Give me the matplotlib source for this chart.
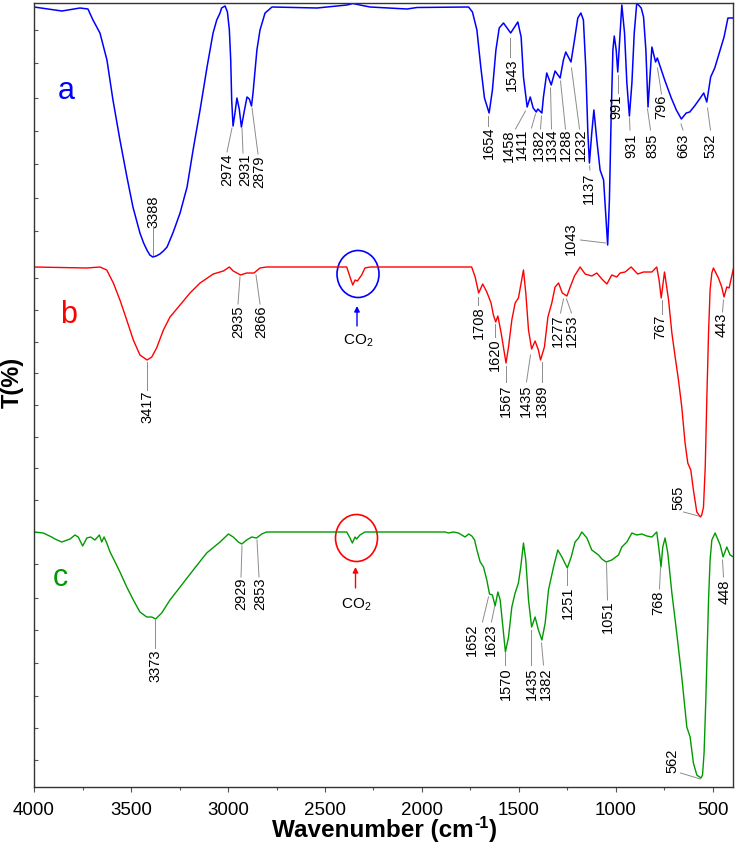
import matplotlib
matplotlib.use('Agg')
import matplotlib.pyplot as plt
from matplotlib.patches import Ellipse
from matplotlib.ticker import MultipleLocator, FixedLocator

plt.rcParams['font.family'] = ['Liberation Sans', 'DejaVu Sans']
plt.rcParams['mathtext.fontset'] = 'custom'
plt.rcParams['mathtext.rm'] = 'Liberation Sans'
plt.rcParams['mathtext.it'] = 'Liberation Sans:italic'
plt.rcParams['mathtext.bf'] = 'Liberation Sans:bold'

# ---------------- data (wavenumber cm-1, transmittance, arbitrary offset units) -------------
a_wn = [4000, 3856, 3763, 3722, 3696, 3660, 3624, 3593, 3557, 3521, 3490, 3454, 3435, 3418, 3403,
        3388, 3370, 3351, 3333, 3314, 3284, 3247, 3211, 3180, 3144, 3108, 3077, 3058, 3041, 3033,
        3015, 3003, 2993, 2986, 2981, 2974, 2964, 2954, 2942, 2931, 2916, 2902, 2890, 2879, 2871,
        2851, 2835, 2809, 2773, 2541, 2387, 2356, 2320, 2268, 2077, 2026, 1760,
        1740, 1717, 1697, 1678, 1654, 1637, 1619, 1602, 1580, 1543, 1506, 1489, 1477, 1458, 1442,
        1427, 1411, 1403, 1382, 1374, 1357, 1334, 1314, 1288, 1271, 1259, 1232, 1214, 1197, 1181,
        1168, 1156, 1145, 1137, 1125, 1114, 1099, 1082, 1064, 1052, 1043, 1034, 1025, 1016, 1009,
        999, 991, 979, 970, 956, 944, 931, 918, 906, 893, 870, 858, 846, 835, 827, 815, 796, 787,
        749, 715, 689, 663, 638, 620, 595, 569, 548, 532, 512, 491, 466, 443, 423, 397]
a_T = [78.0, 77.6, 77.9, 77.8, 76.7, 75.4, 72.7, 68.7, 64.7, 61.0, 58.0, 55.4, 54.4, 53.7, 53.2,
       53.0, 53.1, 53.3, 53.6, 54.0, 55.4, 57.4, 60.0, 63.7, 67.7, 72.0, 75.4, 76.7, 77.4, 77.9,
       78.1, 77.5, 75.7, 72.7, 68.7, 66.1, 67.4, 68.9, 67.8, 66.0, 67.6, 69.0, 68.8, 68.1, 69.4,
       73.7, 75.7, 77.4, 78.0, 77.9, 78.2, 78.35, 78.2, 78.0, 77.8, 77.95, 78.0,
       77.5, 75.7, 72.0, 68.9, 67.4, 69.7, 73.7, 75.9, 76.4, 75.4, 76.5, 75.0, 71.0, 68.0, 69.0,
       67.9, 67.5, 67.8, 67.4, 69.0, 71.4, 70.2, 71.6, 70.9, 72.7, 73.5, 72.5, 74.7, 76.9, 77.4,
       76.7, 72.0, 65.4, 62.4, 65.4, 67.7, 64.7, 61.7, 60.7, 57.0, 54.2, 58.7, 67.0, 73.7, 75.1,
       73.7, 71.5, 75.4, 78.2, 75.4, 70.4, 67.1, 70.4, 75.4, 78.4, 77.9, 77.0, 73.7, 68.0, 70.4,
       74.0, 72.5, 72.9, 70.7, 68.9, 67.7, 66.8, 67.4, 67.5, 68.1, 68.8, 69.4, 68.5, 71.0, 71.9,
       73.5, 75.0, 76.9, 76.9]

b_wn = [4000, 3728, 3660, 3625, 3591, 3557, 3522, 3488, 3454, 3417, 3393, 3368, 3333, 3299, 3247,
        3196, 3144, 3076, 3024, 2993, 2973, 2935, 2904, 2866, 2835, 2801, 2388, 2371, 2357, 2345,
        2333, 2311, 2294, 2268, 1744, 1726, 1708, 1687, 1666, 1644, 1632, 1620, 1609, 1592, 1567,
        1554, 1537, 1520, 1503, 1489, 1477, 1465, 1451, 1435, 1417, 1400, 1389, 1369, 1351, 1331,
        1314, 1296, 1277, 1253, 1236, 1214, 1185, 1159, 1125, 1099, 1073, 1047, 1022, 996, 979,
        953, 922, 888, 858, 815, 790, 778, 767, 750, 729, 712, 695, 678, 661, 644, 630, 614.5, 601,
        583.5, 565, 558, 549, 540, 532, 523, 515, 506, 498, 472, 455, 443, 429, 417, 394]
b_T = [52.0, 51.9, 52.0, 51.7, 50.4, 48.7, 46.7, 44.7, 43.2, 42.7, 43.0, 43.9, 45.7, 47.0, 48.2,
       49.4, 50.4, 51.3, 51.6, 52.0, 51.6, 51.2, 51.4, 51.4, 51.9, 52.0, 52.0, 51.0, 50.2, 50.7,
       50.6, 51.2, 51.9, 52.0, 52.0, 51.0, 49.4, 50.3, 49.5, 48.4, 47.2, 46.5, 47.1, 45.4, 42.4,
       44.0, 46.7, 48.4, 48.9, 50.4, 51.7, 49.4, 45.7, 43.8, 44.6, 43.7, 42.7, 44.0, 47.0, 48.4,
       50.0, 50.4, 49.4, 49.1, 50.0, 51.1, 52.0, 51.3, 51.1, 51.4, 50.8, 50.3, 51.2, 51.0, 51.4,
       51.5, 52.0, 51.3, 51.5, 51.5, 52.0, 50.7, 48.9, 51.5, 48.7, 45.4, 43.0, 40.7, 38.0, 34.4,
       32.4, 31.7, 29.7, 27.5, 27.0, 27.2, 28.0, 32.0, 38.7, 45.4, 49.7, 51.4, 51.9, 50.9, 50.0,
       49.0, 50.0, 49.9, 51.9]

c_wn = [4000, 3952, 3909, 3892, 3857, 3814, 3789, 3772, 3749, 3728, 3708, 3686, 3663, 3651, 3639,
        3625, 3608, 3582, 3557, 3522, 3488, 3454, 3419, 3393, 3373, 3342, 3299, 3247, 3179, 3110,
        3041, 2998, 2973, 2947, 2929, 2904, 2878, 2853, 2826, 2801, 2388, 2371, 2359, 2345, 2337,
        2320, 2294, 1997, 1915, 1881, 1863, 1838, 1812, 1778, 1760, 1743, 1729, 1717, 1700, 1683,
        1666, 1652, 1637, 1623, 1609, 1597, 1580, 1570, 1554, 1537, 1520, 1503, 1491, 1477, 1465,
        1451, 1435, 1417, 1400, 1382, 1365, 1348, 1322, 1300, 1279, 1251, 1231, 1211, 1193, 1176,
        1150, 1125, 1090, 1073, 1051, 1022, 987, 970, 944, 918, 893, 867, 841, 815, 790, 778, 768,
        759, 747, 733, 712, 687, 661, 635, 618, 601, 583.5, 562, 554, 546, 537, 530, 523, 515, 506,
        489, 463, 448, 429, 412, 394]
c_T = [25.5, 25.4, 25.0, 24.8, 24.5, 24.8, 25.2, 25.0, 24.1, 24.9, 25.0, 24.7, 25.2, 24.5, 25.0,
       24.4, 23.5, 22.5, 21.5, 20.0, 18.7, 17.5, 17.0, 17.0, 16.8, 17.4, 18.7, 20.0, 21.7, 23.4,
       24.5, 25.3, 25.0, 24.5, 24.3, 24.7, 25.0, 24.9, 25.3, 25.5, 25.5, 24.9, 24.4, 25.0, 24.8,
       25.2, 25.5, 25.5, 25.5, 25.5, 25.4, 25.5, 25.4, 25.0, 25.3, 25.1, 24.7, 23.7, 22.5, 22.0,
       20.7, 19.3, 19.2, 18.1, 19.5, 18.7, 15.4, 13.5, 15.0, 18.0, 19.4, 20.4, 22.0, 24.4, 22.7,
       18.7, 16.0, 17.0, 15.7, 14.7, 16.4, 19.7, 22.0, 23.7, 23.0, 21.9, 23.0, 24.5, 24.9, 25.5,
       24.9, 23.7, 23.2, 22.8, 22.5, 22.7, 23.2, 24.0, 24.5, 25.4, 25.2, 25.3, 25.1, 25.0, 25.5,
       23.7, 22.0, 24.0, 24.9, 23.4, 19.4, 15.4, 11.0, 6.0, 5.0, 2.4, 1.2, 0.9, 1.2, 3.4, 8.7,
       13.7, 18.7, 22.7, 24.7, 25.4, 24.2, 23.0, 24.0, 23.2, 23.0]

x_ticks = [4000, 3500, 3000, 2500, 2000, 1500, 1000, 500]

# ---------------- layout helpers (figure pixel -> data) ----------------
W, H = 736, 851
L, R, B, T = 34, 733, 787, 3
XMAX, XMIN = 4000, 4000 - (R - L) * 3500 / 679
YMAX = (B - T) / 10


def px2wn(px):
    return 4000 - (px - L) * 3500 / 679


def py2T(py):
    return (B - py) / 10


fig = plt.figure(figsize=(W / 100, H / 100), dpi=100)
ax = fig.add_axes([L / W, (H - B) / H, (R - L) / W, (B - T) / H])

ax.plot(a_wn, a_T, color='#0000ff', lw=1.1)
ax.plot(b_wn, b_T, color='#ff0000', lw=1.0)
ax.plot(c_wn, c_T, color='#009a00', lw=1.0)

ax.set_xlim(XMAX, XMIN)
ax.set_ylim(0, YMAX)

ax.set_xticks(x_ticks)
ax.set_xticklabels([str(v) for v in x_ticks])
ax.xaxis.set_minor_locator(MultipleLocator(250))
ytick_px = [30, 63, 98, 131, 164, 198, 231, 278, 310, 342, 373, 405, 437, 468, 500, 532,
            564, 598, 630, 663, 696, 728, 760]
ax.yaxis.set_major_locator(FixedLocator([py2T(p) for p in ytick_px]))
ax.set_yticklabels([])
ax.tick_params(axis='x', which='major', direction='out', length=3.5, width=0.8,
               color='#555555', labelsize=13.5, pad=7.2)
ax.tick_params(axis='x', which='minor', direction='out', length=2.5, width=0.8, color='#555555')
ax.tick_params(axis='y', which='major', direction='in', length=3, width=0.8, color='#555555')
for s in ax.spines.values():
    s.set_color('#333333')
    s.set_linewidth(1.0)

# x label built from pieces so the superscript uses a short hyphen
r = fig.canvas.get_renderer()
base_y = 836.5
p1 = fig.text(0, 1 - base_y / H, 'Wavenumber (cm', fontsize=17.5, fontweight='bold',
              ha='left', va='baseline')
p2 = fig.text(0, 1 - (base_y - 9) / H, '-1', fontsize=11.5, fontweight='bold',
              ha='left', va='baseline')
p3 = fig.text(0, 1 - base_y / H, ')', fontsize=17.5, fontweight='bold',
              ha='left', va='baseline')
w1 = p1.get_window_extent(r).width
w2 = p2.get_window_extent(r).width
w3 = p3.get_window_extent(r).width
x0 = 384 - (w1 + w2 + w3) / 2
p1.set_x(x0 / W)
p2.set_x((x0 + w1 + 0.5) / W)
p3.set_x((x0 + w1 + w2 + 1) / W)

fig.text(12 / W, 1 - 382 / H, 'T(%)', ha='center', va='center', rotation=90,
         fontsize=17, fontweight='bold')

# curve letters
ax.text(px2wn(58), py2T(99), 'a', color='#0000ff', fontsize=22, ha='left', va='baseline')
ax.text(px2wn(60), py2T(323), 'b', color='#ff0000', fontsize=22, ha='left', va='baseline')
ax.text(px2wn(53), py2T(586), 'c', color='#009a00', fontsize=22, ha='left', va='baseline')

# peak labels: (label, text x, text y, leader from x,y, to x,y) in figure pixels
peaks = [
    ('3388', 153, 212, 153, 226, 153, 255),
    ('2974', 227, 170, 227, 152, 232, 128),
    ('2931', 245, 170, 243, 153, 242, 128),
    ('2879', 259, 172, 258, 154, 252, 108),
    ('1654', 488.5, 143, 488.5, 126, 488.5, 116),
    ('1543', 511.5, 75, 510.5, 57, 510.5, 38),
    ('1458', 508.5, 146, 515.5, 129, 525.5, 111),
    ('1411', 521.5, 144, 531.5, 128, 535.5, 114),
    ('1382', 538.5, 145, 540.5, 129, 541.5, 116),
    ('1334', 551.5, 145, 551.5, 129, 550.5, 88),
    ('1288', 565.5, 145, 565.5, 129, 560.5, 81),
    ('1232', 580.5, 145, 579.5, 129, 571.5, 68),
    ('1137', 588.5, 188, 590, 170, 589.5, 166),
    ('1043', 570.5, 239, 580.5, 240, 605.5, 243),
    ('991', 616.5, 107, 617.5, 93, 617.5, 75),
    ('931', 631, 146, 630, 130, 629.5, 118),
    ('835', 652.5, 146, 650.5, 130, 647.5, 109),
    ('796', 661.5, 107, 661.5, 94, 657.5, 68),
    ('663', 683, 146, 683, 130, 681, 124),
    ('532', 710.5, 146, 710.5, 130, 707.5, 108),
    ('3417', 147, 407, 147, 390, 147, 362),
    ('2935', 238, 322, 238, 304, 240, 277),
    ('2866', 261, 322, 260, 304, 256, 275),
    ('1708', 478.5, 323, 478.5, 305, 478.5, 297),
    ('1620', 494.5, 355, 495.5, 337, 495.5, 324),
    ('1567', 505.5, 401, 506.5, 382, 506.5, 366),
    ('1435', 525.5, 401, 526.5, 382, 530.5, 355),
    ('1389', 541.5, 401, 541.5, 382, 541.5, 362),
    ('1277', 557.5, 331, 560.5, 313, 563.5, 299),
    ('1253', 571.5, 331, 571.5, 313, 566.5, 299),
    ('767', 660.5, 327, 661.5, 314, 661.5, 300),
    ('565', 678.5, 498, 683.5, 512, 698.5, 516),
    ('443', 721.5, 325, 722.5, 312, 723.5, 300),
    ('3373', 155, 666, 155, 648, 155, 620),
    ('2929', 241, 594, 241, 577, 242, 546),
    ('2853', 260, 594, 259, 577, 257, 540),
    ('1652', 471.5, 640, 482.5, 622, 488.5, 597),
    ('1623', 490.5, 640, 491.5, 622, 494.5, 607),
    ('1570', 505.5, 684, 505.5, 665, 505.5, 653),
    ('1435', 531.5, 684, 531.5, 665, 531.5, 630),
    ('1382', 545.5, 684, 543.5, 665, 541.5, 643),
    ('1251', 567.5, 603, 567.5, 585, 567.5, 569),
    ('1051', 607.5, 617, 607.5, 600, 606.5, 563),
    ('768', 658.5, 603, 659.5, 589, 660.5, 568),
    ('562', 672.5, 761, 680.5, 773, 700.5, 779),
    ('448', 724.5, 592, 723.5, 577, 722.5, 560),
]
for lab, tx, ty, x0_, y0_, x1_, y1_ in peaks:
    ax.plot([px2wn(x0_), px2wn(x1_)], [py2T(y0_), py2T(y1_)], color='#8c8c8c', lw=0.7)
    ax.text(px2wn(tx), py2T(ty), lab, rotation=90, ha='center', va='center', fontsize=10.5)

# CO2 markers
for (cx, cy, col, ay0, ay1, ty) in [(358, 274, '#0000ff', 326, 306, 341),
                                    (356.5, 538, '#ff0000', 588, 567, 605)]:
    ax.add_patch(Ellipse((px2wn(cx), py2T(cy)), width=42 * 3500 / 679, height=4.7,
                         fill=False, edgecolor=col, lw=1.2))
    ax.annotate('', xy=(px2wn(cx - 1), py2T(ay1)), xytext=(px2wn(cx - 1), py2T(ay0)),
                arrowprops=dict(arrowstyle='-|>', color=col, lw=1.0, mutation_scale=8,
                                shrinkA=0, shrinkB=0))
    ax.text(px2wn(cx), py2T(ty), 'CO$_2$', ha='center', va='center', fontsize=11)

fig.savefig('out.png', dpi=100)
